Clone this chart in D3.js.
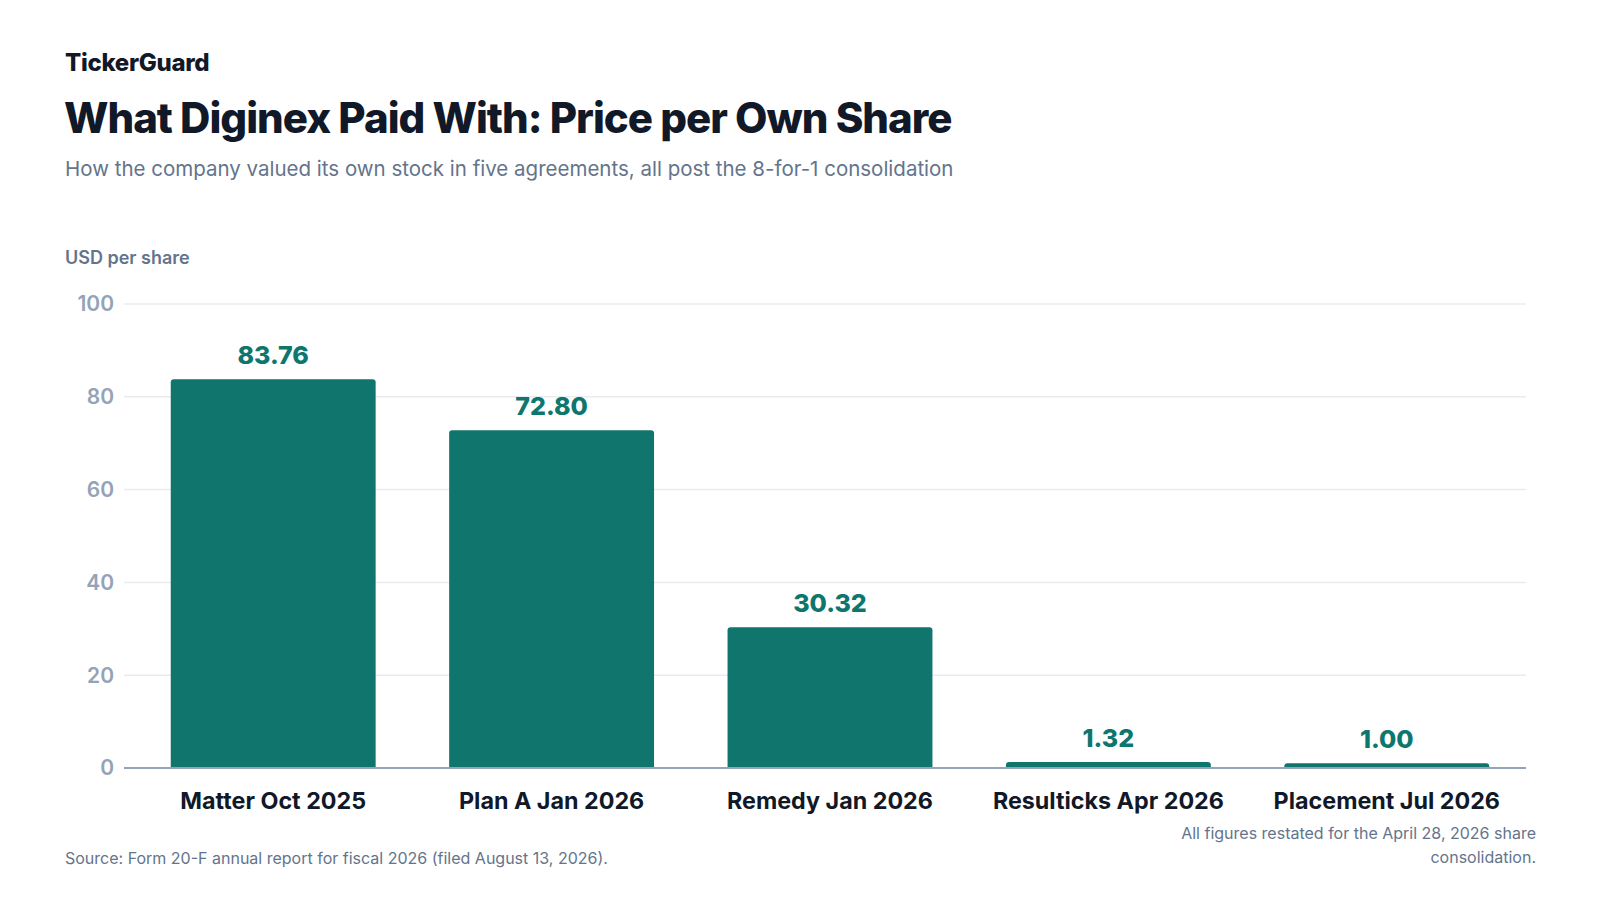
<!DOCTYPE html>
<html>
<head>
<meta charset="utf-8">
<script src="https://cdn.jsdelivr.net/npm/d3@7"></script>
<style>
  html, body { margin: 0; padding: 0; background: #ffffff; }
  svg { display: block; font-family: Inter, "Noto Sans", sans-serif; }
</style>
</head>
<body>
<svg id="chart" width="1600" height="900"></svg>
<script>
const categories = ["Matter Oct 2025", "Plan A Jan 2026", "Remedy Jan 2026", "Resulticks Apr 2026", "Placement Jul 2026"];
const values = [83.76, 72.80, 30.32, 1.32, 1.00];
const valueLabels = ["83.76", "72.80", "30.32", "1.32", "1.00"];
const yTicks = [0, 20, 40, 60, 80, 100];

const brand = "TickerGuard";
const title = "What Diginex Paid With: Price per Own Share";
const subtitle = "How the company valued its own stock in five agreements, all post the 8-for-1 consolidation";
const yAxisTitle = "USD per share";
const source = "Source: Form 20-F annual report for fiscal 2026 (filed August 13, 2026).";
const noteLines = ["All figures restated for the April 28, 2026 share", "consolidation."];

const svg = d3.select("#chart");
const plot = { left: 124, right: 1526, top: 304, bottom: 768 };

const barColor = "#10766d";
const labelColor = "#0f766e";

// header
svg.append("text").attr("x", 65).attr("y", 70.5)
  .attr("font-size", 24).attr("font-weight", 800).attr("fill", "#111827")
  .attr("letter-spacing", "-0.3").text(brand);
svg.append("text").attr("x", 64).attr("y", 132.5)
  .attr("font-size", 42).attr("font-weight", 800).attr("fill", "#111827")
  .attr("letter-spacing", "-1").text(title);
svg.append("text").attr("x", 65).attr("y", 176)
  .attr("font-size", 20.5).attr("font-weight", 400).attr("fill", "#64748b")
  .text(subtitle);
svg.append("text").attr("x", 65).attr("y", 264)
  .attr("font-size", 18).attr("font-weight", 600).attr("fill", "#64748b")
  .text(yAxisTitle);

// scales
const y = d3.scaleLinear().domain([0, 100]).range([plot.bottom, plot.top]);
const x = d3.scaleBand().domain(categories).range([plot.left + 10, plot.right])
  .paddingInner(0.264).paddingOuter(0.132);

// gridlines
svg.append("g").selectAll("line").data(yTicks.filter(d => d !== 0)).join("line")
  .attr("x1", plot.left).attr("x2", plot.right)
  .attr("y1", d => y(d)).attr("y2", d => y(d))
  .attr("stroke", "#e8ebf0").attr("stroke-width", 1.5);

// y tick labels
svg.append("g").selectAll("text").data(yTicks).join("text")
  .attr("x", 114).attr("y", d => y(d)).attr("dy", "0.35em")
  .attr("text-anchor", "end").attr("font-size", 21).attr("font-weight", 600)
  .attr("fill", "#94a3b8").text(d => d);

// bars with rounded top corners
const r = 3;
function barPath(x0, w, yTop, yBot) {
  const rr = Math.min(r, (yBot - yTop));
  return `M${x0},${yBot} L${x0},${yTop + rr} Q${x0},${yTop} ${x0 + rr},${yTop} L${x0 + w - rr},${yTop} Q${x0 + w},${yTop} ${x0 + w},${yTop + rr} L${x0 + w},${yBot} Z`;
}
const data = categories.map((c, i) => ({ c, v: values[i], l: valueLabels[i] }));
svg.append("g").selectAll("path").data(data).join("path")
  .attr("d", d => barPath(x(d.c), x.bandwidth(), y(d.v), y(0)))
  .attr("fill", barColor);

// axis line
svg.append("line").attr("x1", plot.left).attr("x2", plot.right)
  .attr("y1", y(0)).attr("y2", y(0))
  .attr("stroke", "#94a3b8").attr("stroke-width", 2);

// value labels
svg.append("g").selectAll("text").data(data).join("text")
  .attr("x", d => x(d.c) + x.bandwidth() / 2).attr("y", d => y(d.v) - 15)
  .attr("text-anchor", "middle").attr("font-size", 25).attr("font-weight", 800)
  .attr("fill", labelColor).text(d => d.l);

// category labels
svg.append("g").selectAll("text").data(categories).join("text")
  .attr("x", d => x(d) + x.bandwidth() / 2).attr("y", 808.5)
  .attr("text-anchor", "middle").attr("font-size", 23.3).attr("font-weight", 700)
  .attr("fill", "#111827").text(d => d);

// footer
svg.append("text").attr("x", 65).attr("y", 863.5)
  .attr("font-size", 16).attr("fill", "#64748b").text(source);
svg.append("g").selectAll("text").data(noteLines).join("text")
  .attr("x", 1536).attr("y", (d, i) => 838.5 + i * 24.3)
  .attr("text-anchor", "end").attr("font-size", 16).attr("fill", "#64748b")
  .text(d => d);
</script>
</body>
</html>
